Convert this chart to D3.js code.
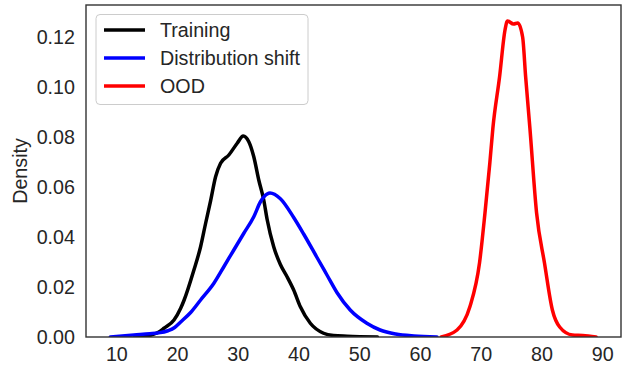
<!DOCTYPE html>
<html>
<head>
<meta charset="utf-8">
<script src="https://cdn.jsdelivr.net/npm/d3@7"></script>
<style>
  body { margin: 0; background: #fff; }
  text { font-family: Arial, "Liberation Sans", sans-serif; fill: #262626; }
</style>
</head>
<body>
<script>
// KDE curves
var trainX = [13, 15, 15.7, 17.0, 17.85, 19.49, 20.59, 21.13, 22.77, 23.87, 24.7, 25.52, 26.34, 27.16, 28.52, 29.9, 30.89, 31.81, 32.63, 33.45, 34.27, 34.83, 35.91, 37.01, 38.11, 39.2, 40.3, 41.94, 44.12, 45.76, 48, 53];
var trainY = [0, 0.0003, 0.0008, 0.002, 0.0035, 0.0068, 0.0115, 0.0146, 0.0268, 0.0361, 0.0455, 0.0545, 0.0641, 0.0695, 0.0728, 0.0775, 0.0804, 0.0781, 0.0721, 0.0628, 0.0548, 0.047, 0.0361, 0.029, 0.0241, 0.0188, 0.0121, 0.0055, 0.0015, 0.0006, 0.0003, 0];

var shiftX = [9, 12.9, 15.5, 16.8, 18.5, 19.6, 20.59, 22.23, 23.87, 26.06, 27.7, 29.34, 30.99, 32.63, 33.73, 34.83, 35.3, 37.01, 39.2, 40.84, 43.04, 44.68, 46.32, 48.51, 51.25, 53.43, 56, 59, 62.8];
var shiftY = [0, 0.0008, 0.0013, 0.0016, 0.0025, 0.0038, 0.006, 0.0098, 0.0148, 0.0215, 0.0281, 0.0348, 0.0415, 0.0481, 0.0541, 0.0572, 0.0576, 0.0553, 0.0478, 0.0412, 0.0318, 0.0248, 0.0178, 0.0108, 0.0055, 0.0028, 0.0012, 0.0004, 0];

var oodX = [63.5, 66.1, 68.2, 69.8, 70.7, 71.5, 72.0, 73.1, 74.0, 74.4, 75.4, 76.1, 76.9, 77.4, 78.1, 79.2, 80.5, 81.8, 83.0, 85.1, 86.8, 89.0];
var oodY = [0, 0.0028, 0.012, 0.0296, 0.0496, 0.0696, 0.0835, 0.104, 0.1228, 0.1264, 0.1252, 0.1256, 0.12, 0.104, 0.0835, 0.0496, 0.0296, 0.0108, 0.004, 0.0008, 0.0006, 0];

var seriesNames = ["Training", "Distribution shift", "OOD"];
var seriesColors = ["#000000", "#0000ff", "#ff0000"];
var xTicks = [10, 20, 30, 40, 50, 60, 70, 80, 90];
var yTicks = [0, 0.02, 0.04, 0.06, 0.08, 0.10, 0.12];

var w = 624, h = 366;
var plotL = 86, plotT = 5, plotR = 621, plotB = 337;
var fontSize = 19.7;

var svg = d3.select("body").append("svg")
    .attr("width", w)
    .attr("height", h);

var x = d3.scaleLinear().domain([5.0, 93.1]).range([plotL, plotR]);
var y = d3.scaleLinear().domain([0, 0.1328]).range([plotB, plotT]);

var series = [
    { name: seriesNames[0], xs: trainX, ys: trainY, color: seriesColors[0] },
    { name: seriesNames[1], xs: shiftX, ys: shiftY, color: seriesColors[1] },
    { name: seriesNames[2], xs: oodX, ys: oodY, color: seriesColors[2] }
];

var line = d3.line()
    .x(function (d) { return x(d[0]); })
    .y(function (d) { return y(d[1]); })
    .curve(d3.curveMonotoneX);

// clip to plot area
svg.append("clipPath").attr("id", "plot")
    .append("rect")
    .attr("x", plotL).attr("y", plotT)
    .attr("width", plotR - plotL).attr("height", plotB - plotT);

svg.append("g").attr("clip-path", "url(#plot)")
    .selectAll("path")
    .data(series)
    .enter()
    .append("path")
    .attr("d", function (s) { return line(d3.zip(s.xs, s.ys)); })
    .attr("fill", "none")
    .attr("stroke", function (s) { return s.color; })
    .attr("stroke-width", 3.5)
    .attr("stroke-linejoin", "round")
    .attr("stroke-linecap", "round");

// axes (no tick marks, seaborn white style)
var xAxis = d3.axisBottom(x).tickValues(xTicks).tickSize(0).tickPadding(10)
    .tickFormat(d3.format("d"));
var yAxis = d3.axisLeft(y).tickValues(yTicks).tickSize(0).tickPadding(11)
    .tickFormat(d3.format(".2f"));

var gx = svg.append("g").attr("transform", "translate(0," + plotB + ")").call(xAxis);
var gy = svg.append("g").attr("transform", "translate(" + plotL + ",0)").call(yAxis);
[gx, gy].forEach(function (g) {
    g.select(".domain").remove();
    g.selectAll("text").attr("font-size", fontSize)
        .attr("font-family", "Arial, 'Liberation Sans', sans-serif")
        .attr("fill", "#262626");
});

// frame
svg.append("rect")
    .attr("x", plotL).attr("y", plotT)
    .attr("width", plotR - plotL).attr("height", plotB - plotT)
    .attr("fill", "none")
    .attr("stroke", "#333333")
    .attr("stroke-width", 1.4);

// y label
svg.append("text")
    .attr("text-anchor", "middle")
    .attr("transform", "translate(27," + ((plotT + plotB) / 2) + ") rotate(-90)")
    .attr("font-size", fontSize)
    .text("Density");

// legend
var legend = svg.append("g");
legend.append("rect")
    .attr("x", 96).attr("y", 14.5)
    .attr("width", 212).attr("height", 90)
    .attr("rx", 4)
    .attr("fill", "#ffffff")
    .attr("fill-opacity", 0.8)
    .attr("stroke", "#cccccc")
    .attr("stroke-width", 1);

var items = legend.selectAll("g.item")
    .data(series)
    .enter()
    .append("g")
    .attr("transform", function (d, i) { return "translate(0," + (30 + i * 28) + ")"; });

items.append("line")
    .attr("x1", 104).attr("x2", 145)
    .attr("stroke", function (d) { return d.color; })
    .attr("stroke-width", 3.5);

items.append("text")
    .attr("x", 160)
    .attr("dy", "0.35em")
    .attr("font-size", fontSize)
    .text(function (d) { return d.name; });
</script>
</body>
</html>
